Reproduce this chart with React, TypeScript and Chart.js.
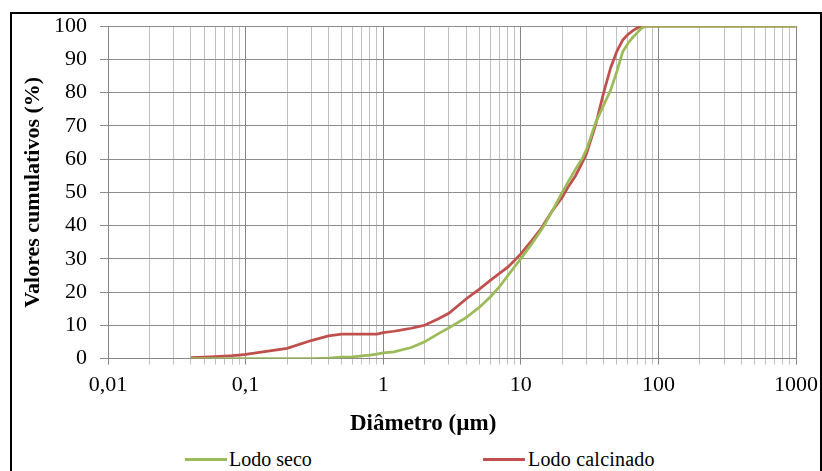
import React, { useEffect, useRef } from "react";
import { Chart, registerables } from "chart.js";

Chart.register(...registerables);

const diameters = [0.04, 0.05, 0.06, 0.07, 0.08, 0.09, 0.1, 0.2, 0.3, 0.4, 0.5, 0.6, 0.7, 0.8, 0.9, 1, 1.2, 1.4, 1.6, 1.8, 2, 2.5, 3, 4, 5, 6, 7, 8, 9, 10, 12, 14, 15, 17, 20, 22, 25, 28, 30, 35, 40, 45, 50, 55, 60, 65, 70, 75, 80, 90, 100, 200, 300, 500, 1000];

const lodoSeco = [0, 0, 0, 0, 0, 0, 0, 0, 0, 0.1, 0.4, 0.5, 0.8, 1.0, 1.3, 1.7, 2.0, 2.7, 3.3, 4.2, 5.0, 7.4, 9.2, 12.3, 15.4, 18.5, 21.6, 24.8, 27.6, 30, 34.5, 38.5, 40.5, 44.5, 50, 53, 57, 60.2, 62.8, 71, 76.2, 80.8, 86.5, 92.3, 94.8, 96.6, 98, 99.3, 100, 100, 100, 100, 100, 100, 100];

const lodoCalcinado = [0.25, 0.4, 0.55, 0.7, 0.85, 1.05, 1.25, 3.05, 5.4, 6.8, 7.3, 7.3, 7.3, 7.3, 7.35, 7.8, 8.2, 8.7, 9.1, 9.6, 10.0, 11.9, 13.6, 17.9, 20.9, 23.5, 25.6, 27.4, 29.5, 31.5, 35.5, 39, 41, 44.5, 48.5, 51.5, 55, 59, 61.6, 70.3, 80, 87.5, 92.5, 95.8, 97.5, 98.6, 99.5, 100, 100, 100, 100, 100, 100, 100, 100];

const yTicks = [0, 10, 20, 30, 40, 50, 60, 70, 80, 90, 100];
const decadeLabels: Record<string, string> = {
  "0.01": "0,01",
  "0.1": "0,1",
  "1": "1",
  "10": "10",
  "100": "100",
  "1000": "1000",
};
const decades = [-2, -1, 0, 1, 2];
const multiples = [1, 2, 3, 4, 5, 6, 7, 8, 9];
const xTickValues: number[] = [];
decades.forEach((e) => multiples.forEach((m) => xTickValues.push(Number((m * Math.pow(10, e)).toPrecision(6)))));
xTickValues.push(1000);

const FONT = '"Liberation Serif", "Times New Roman", serif';

function isDecade(v: number) {
  return decadeLabels[String(v)] !== undefined;
}

export default function App() {
  const ref = useRef<HTMLCanvasElement | null>(null);
  useEffect(() => {
    if (!ref.current) return;
    const chart = new Chart(ref.current, {
      type: "line",
      data: {
        datasets: [
          {
            label: "Lodo seco",
            data: diameters.map((d, i) => ({ x: d, y: lodoSeco[i] })),
            borderColor: "#9BBB59",
            backgroundColor: "#9BBB59",
            borderWidth: 2.75,
            pointRadius: 0,
            tension: 0,
          },
          {
            label: "Lodo calcinado",
            data: diameters.map((d, i) => ({ x: d, y: lodoCalcinado[i] })),
            borderColor: "#C0504D",
            backgroundColor: "#C0504D",
            borderWidth: 2.75,
            pointRadius: 0,
            tension: 0,
          },
        ],
      },
      options: {
        animation: false,
        responsive: false,
        events: [],
        layout: { padding: { top: 25, right: 26, left: 0, bottom: 0 } },
        plugins: {
          legend: { display: false },
          tooltip: { enabled: false },
        },
        scales: {
          x: {
            type: "logarithmic",
            min: 0.01,
            max: 1000,
            afterBuildTicks: (scale: any) => {
              scale.ticks = xTickValues.map((v) => ({ value: v, major: isDecade(v) }));
            },
            afterFit: (scale: any) => {
              scale.height = 76.5;
              scale.paddingRight = 0;
              scale.paddingLeft = 0;
            },
            ticks: {
              autoSkip: false,
              maxRotation: 0,
              minRotation: 0,
              padding: 8,
              color: "#000",
              font: { family: FONT, size: 22 },
              callback: (v: any) => decadeLabels[String(v)] ?? "",
            },
            grid: {
              color: (ctx: any) => (ctx.tick && isDecade(ctx.tick.value) ? "#868686" : "#C0C0C0"),
              lineWidth: 1,
              tickLength: 6,
              drawTicks: true,
            },
            border: { display: true, color: "#868686", width: 1 },
            title: { display: false },
          },
          y: {
            type: "linear",
            min: 0,
            max: 100,
            afterBuildTicks: (scale: any) => {
              scale.ticks = yTicks.map((v) => ({ value: v }));
            },
            afterFit: (scale: any) => {
              scale.width = 108;
            },
            ticks: {
              padding: 13,
              color: "#000",
              font: { family: FONT, size: 22 },
            },
            grid: {
              color: "#8C8C8C",
              lineWidth: 1,
              tickLength: 8,
              drawTicks: true,
            },
            border: { display: true, color: "#868686", width: 1 },
            title: {
              display: true,
              text: "Valores cumulativos (%)",
              color: "#000",
              font: { family: FONT, size: 22, weight: "bold" },
              padding: { top: 19.8, bottom: 0 },
            },
          },
        },
      } as any,
    });
    return () => chart.destroy();
  }, []);

  const legendText: React.CSSProperties = {
    position: "absolute",
    top: 449,
    fontFamily: FONT,
    fontSize: 20,
    lineHeight: "20px",
    color: "#000",
    whiteSpace: "nowrap",
  };

  return (
    <div style={{ position: "fixed", left: 0, top: 0, width: 822, height: 471, background: "#fff", overflow: "hidden" }}>
      <div
        style={{
          position: "absolute",
          left: 10,
          top: 12,
          width: 808,
          height: 480,
          border: "2px solid #000",
        }}
      />
      <canvas ref={ref} width={822} height={435} style={{ position: "absolute", left: 0, top: 0, width: 822, height: 435 }} />
      <div
        style={{
          position: "absolute",
          left: 350,
          top: 411,
          fontFamily: FONT,
          fontSize: 23,
          fontWeight: "bold",
          lineHeight: "23px",
          color: "#000",
          whiteSpace: "nowrap",
        }}
      >
        Diâmetro (µm)
      </div>
      <div style={{ position: "absolute", left: 185, top: 458, width: 42, height: 3, background: "#9BBB59" }} />
      <div style={{ ...legendText, left: 229 }}>Lodo seco</div>
      <div style={{ position: "absolute", left: 483, top: 458, width: 42, height: 3, background: "#C0504D" }} />
      <div style={{ ...legendText, left: 528, letterSpacing: "0.2px" }}>Lodo calcinado</div>
    </div>
  );
}
